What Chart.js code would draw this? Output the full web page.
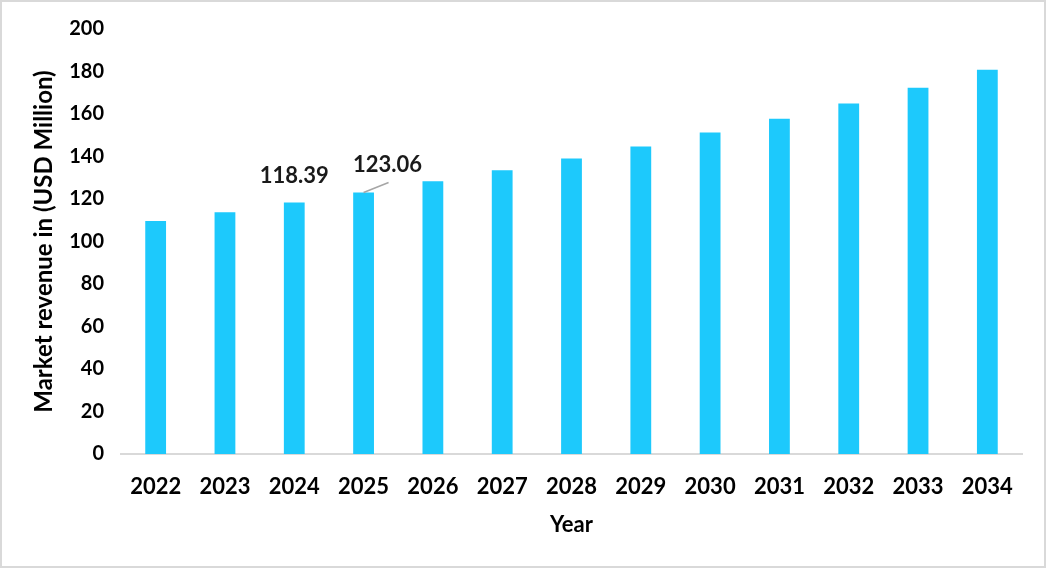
<!DOCTYPE html>
<html>
<head>
<meta charset="utf-8">
<script src="https://cdn.jsdelivr.net/npm/chart.js@4"></script>
<style>
  html, body { margin: 0; padding: 0; background: #fff; }
  #wrap { position: relative; width: 1046px; height: 568px; box-sizing: border-box; border: 2px solid #d9d9d9; }
  canvas { position: absolute; left: -2px; top: -2px; }
</style>
</head>
<body>
<div id="wrap"><canvas id="myChart" width="1046" height="568"></canvas></div>
<script>
const years = ["2022", "2023", "2024", "2025", "2026", "2027", "2028", "2029", "2030", "2031", "2032", "2033", "2034"];
const revenue = [109.6, 113.8, 118.39, 123.06, 128.3, 133.5, 139.1, 144.7, 151.3, 157.8, 164.9, 172.4, 180.8];
const shownLabels = [null, null, "118.39", "123.06", null, null, null, null, null, null, null, null, null];
const yTicks = [0, 20, 40, 60, 80, 100, 120, 140, 160, 180, 200];

const fontFamily = "Lato, 'Open Sans', sans-serif";

// draws the two value labels, the second one with a small leader line
const valueLabels = {
  id: "valueLabels",
  afterDatasetsDraw(chart) {
    const ctx = chart.ctx;
    const meta = chart.getDatasetMeta(0);
    ctx.save();
    ctx.font = "bold 22px " + fontFamily;
    ctx.fillStyle = "#1a1a1a";
    ctx.textAlign = "center";
    ctx.textBaseline = "middle";
    shownLabels.forEach((txt, i) => {
      if (!txt) return;
      const bar = meta.data[i];
      if (i === 3) {
        ctx.strokeStyle = "#a6a6a6";
        ctx.lineWidth = 1.5;
        ctx.beginPath();
        ctx.moveTo(bar.x, bar.y);
        ctx.lineTo(bar.x + 25, bar.y - 10);
        ctx.stroke();
        ctx.fillText(txt, bar.x + 24, bar.y - 28);
      } else {
        ctx.fillText(txt, bar.x, bar.y - 27);
      }
    });
    ctx.restore();
  }
};

new Chart(document.getElementById("myChart"), {
  type: "bar",
  data: {
    labels: years,
    datasets: [{
      data: revenue,
      backgroundColor: "rgb(29, 201, 252)",
      categoryPercentage: 1,
      barPercentage: 0.3
    }]
  },
  options: {
    responsive: false,
    devicePixelRatio: 1,
    animation: false,
    layout: { padding: { left: 0, right: 24, top: 27, bottom: 0 } },
    plugins: {
      legend: { display: false },
      tooltip: { enabled: false }
    },
    scales: {
      x: {
        grid: { display: false, drawTicks: false },
        border: { display: true, color: "#d9d9d9", width: 2 },
        ticks: {
          color: "#000",
          font: { family: fontFamily, size: 22, weight: "bold" },
          padding: 20,
          maxRotation: 0
        },
        title: {
          display: true,
          text: "Year",
          color: "#000",
          font: { family: fontFamily, size: 22, weight: "bold" },
          padding: { top: 0, bottom: 30 }
        },
        afterFit(scale) { scale.height = 114; }
      },
      y: {
        min: 0,
        max: 200,
        afterBuildTicks(scale) { scale.ticks = yTicks.map(v => ({ value: v })); },
        grid: { display: false, drawTicks: false },
        border: { display: false },
        ticks: {
          color: "#000",
          font: { family: fontFamily, size: 20, weight: "bold" },
          padding: 17
        },
        title: {
          display: true,
          text: "Market revenue in (USD Million)",
          color: "#000",
          font: { family: fontFamily, size: 24, weight: "bold" },
          padding: { top: 30, bottom: 0 }
        },
        afterFit(scale) { scale.width = 121; }
      }
    }
  },
  plugins: [valueLabels]
});
</script>
</body>
</html>
